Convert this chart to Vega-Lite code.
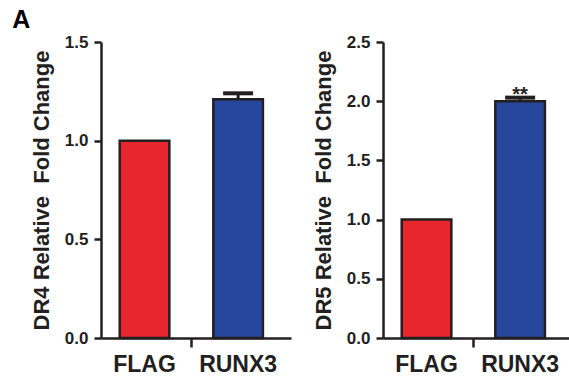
{
  "$schema": "https://vega.github.io/schema/vega-lite/v6.json",
  "padding": {"left": 12, "top": 8, "right": 0, "bottom": 0},
  "title": {"text": "A", "anchor": "start", "fontSize": 25, "fontWeight": "bold", "font": "Liberation Sans", "color": "#000000", "offset": 0, "dx": -18},
  "spacing": 21,
  "datasets": {
    "dr4": [
      {"group": "FLAG", "mean": 1.0, "upper": null, "sig": ""},
      {"group": "RUNX3", "mean": 1.21, "upper": 1.24, "sig": ""}
    ],
    "dr5": [
      {"group": "FLAG", "mean": 1.0, "upper": null, "sig": ""},
      {"group": "RUNX3", "mean": 2.0, "upper": 2.03, "sig": "**"}
    ]
  },
  "hconcat": [
    {
      "width": 190, "height": 296,
      "data": {"name": "dr4"},
      "layer": [
        {
          "mark": {"type": "bar", "stroke": "#231f20", "strokeWidth": 2.5},
          "encoding": {
            "x": {"field": "group", "type": "nominal", "sort": ["FLAG", "RUNX3"], "scale": {"paddingInner": 0.47, "paddingOuter": 0.25, "align": 0.4},
                  "axis": {"title": null, "labelAngle": 0, "ticks": false, "labelFontSize": 23, "labelPadding": 15, "domainWidth": 2.5}},
            "y": {"field": "mean", "type": "quantitative", "scale": {"domain": [0, 1.5], "nice": false},
                  "axis": {"title": "DR4 Relative\u00a0 Fold Change", "values": [0, 0.5, 1, 1.5], "format": ".1f"}},
            "fill": {"field": "group", "type": "nominal", "scale": {"domain": ["FLAG", "RUNX3"], "range": ["#e8262d", "#27479c"]}, "legend": null}
          }
        },
        {
          "transform": [{"filter": "datum.upper != null"}],
          "mark": {"type": "rule", "strokeWidth": 3, "color": "#231f20"},
          "encoding": {
            "x": {"field": "group", "type": "nominal", "sort": ["FLAG", "RUNX3"],
                  "axis": {"title": null, "orient": "bottom", "values": ["FLAG"], "labels": false, "domain": false, "ticks": true, "tickSize": 9, "tickWidth": 2.5, "tickOffset": 46.5}},
            "y": {"field": "mean", "type": "quantitative", "axis": {"title": "DR4 Relative\u00a0 Fold Change", "values": [0, 0.5, 1, 1.5], "format": ".1f"}},
            "y2": {"field": "upper"}
          }
        },
        {
          "transform": [{"filter": "datum.upper != null"}],
          "mark": {"type": "tick", "size": 30, "thickness": 4, "color": "#231f20", "opacity": 1},
          "encoding": {
            "x": {"field": "group", "type": "nominal", "sort": ["FLAG", "RUNX3"], "axis": null},
            "y": {"field": "upper", "type": "quantitative", "axis": {"title": "DR4 Relative\u00a0 Fold Change", "values": [0, 0.5, 1, 1.5], "format": ".1f"}}
          }
        }
      ],
      "resolve": {"axis": {"x": "independent"}}
    },
    {
      "width": 190, "height": 296,
      "data": {"name": "dr5"},
      "layer": [
        {
          "mark": {"type": "bar", "stroke": "#231f20", "strokeWidth": 2.5},
          "encoding": {
            "x": {"field": "group", "type": "nominal", "sort": ["FLAG", "RUNX3"], "scale": {"paddingInner": 0.47, "paddingOuter": 0.25, "align": 0.4},
                  "axis": {"title": null, "labelAngle": 0, "ticks": false, "labelFontSize": 23, "labelPadding": 15, "domainWidth": 2.5}},
            "y": {"field": "mean", "type": "quantitative", "scale": {"domain": [0, 2.5], "nice": false},
                  "axis": {"title": "DR5 Relative\u00a0 Fold Change", "values": [0, 0.5, 1, 1.5, 2, 2.5], "format": ".1f"}},
            "fill": {"field": "group", "type": "nominal", "scale": {"domain": ["FLAG", "RUNX3"], "range": ["#e8262d", "#27479c"]}, "legend": null}
          }
        },
        {
          "transform": [{"filter": "datum.upper != null"}],
          "mark": {"type": "rule", "strokeWidth": 3, "color": "#231f20"},
          "encoding": {
            "x": {"field": "group", "type": "nominal", "sort": ["FLAG", "RUNX3"],
                  "axis": {"title": null, "orient": "bottom", "values": ["FLAG"], "labels": false, "domain": false, "ticks": true, "tickSize": 9, "tickWidth": 2.5, "tickOffset": 46.5}},
            "y": {"field": "mean", "type": "quantitative", "axis": {"title": "DR5 Relative\u00a0 Fold Change", "values": [0, 0.5, 1, 1.5, 2, 2.5], "format": ".1f"}},
            "y2": {"field": "upper"}
          }
        },
        {
          "transform": [{"filter": "datum.upper != null"}],
          "mark": {"type": "tick", "size": 30, "thickness": 4, "color": "#231f20", "opacity": 1},
          "encoding": {
            "x": {"field": "group", "type": "nominal", "sort": ["FLAG", "RUNX3"], "axis": null},
            "y": {"field": "upper", "type": "quantitative", "axis": {"title": "DR5 Relative\u00a0 Fold Change", "values": [0, 0.5, 1, 1.5, 2, 2.5], "format": ".1f"}}
          }
        },
        {
          "transform": [{"filter": "datum.sig != ''"}],
          "mark": {"type": "text", "fontSize": 20, "fontWeight": "bold", "color": "#231f20", "baseline": "alphabetic", "dy": 3},
          "encoding": {
            "x": {"field": "group", "type": "nominal", "sort": ["FLAG", "RUNX3"], "axis": null},
            "y": {"field": "upper", "type": "quantitative", "axis": {"title": "DR5 Relative\u00a0 Fold Change", "values": [0, 0.5, 1, 1.5, 2, 2.5], "format": ".1f"}},
            "text": {"field": "sig"}
          }
        }
      ],
      "resolve": {"axis": {"x": "independent"}}
    }
  ],
  "config": {
    "font": "Liberation Sans",
    "view": {"stroke": null},
    "axis": {
      "grid": false,
      "domainColor": "#231f20", "domainWidth": 2.5,
      "tickColor": "#231f20", "tickWidth": 2.5, "tickSize": 7,
      "labelFont": "Liberation Sans", "labelFontWeight": "bold", "labelFontSize": 17, "labelColor": "#231f20", "labelPadding": 6,
      "titleFont": "Liberation Sans", "titleFontWeight": "bold", "titleFontSize": 22, "titleColor": "#231f20", "titlePadding": 11
    }
  }
}
